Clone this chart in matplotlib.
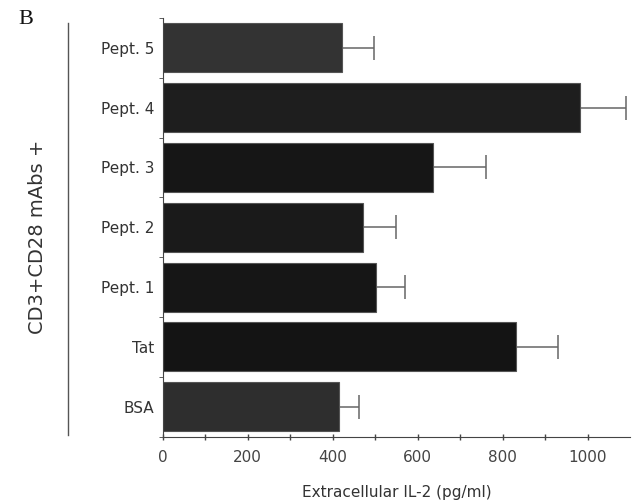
import matplotlib
matplotlib.use("Agg")
import matplotlib.pyplot as plt
from matplotlib.lines import Line2D

# data (bottom to top)
labels = ["BSA", "Tat", "Pept. 1", "Pept. 2", "Pept. 3", "Pept. 4", "Pept. 5"]
il2 = [415, 831, 503, 471, 636, 983, 421]
err = [47, 99, 68, 77, 125, 108, 77]

bar_colors = ["#2e2e2e", "#141414", "#161616", "#1a1a1a", "#161616", "#1e1e1e", "#333333"]

fig = plt.figure(figsize=(6.42, 5.03), dpi=100)
ax = fig.add_axes([0.2534, 0.1312, 0.728, 0.833])

pos = list(range(len(labels)))
ax.barh(pos, il2, height=0.82, color=bar_colors, edgecolor="#555555", linewidth=0.8, zorder=2)
ax.errorbar(il2, pos, xerr=[[0] * len(err), err], fmt="none", ecolor="#666666",
            elinewidth=1.1, capsize=8.7, capthick=1.1, zorder=1)

ax.set_xlim(0, 1100)
ax.set_ylim(-0.508, 6.475)

ax.set_xticks([0, 200, 400, 600, 800, 1000])
ax.set_xticks(range(100, 1100, 200), minor=True)
ax.tick_params(axis="x", which="both", direction="inout", length=5, width=1, labelsize=11,
               pad=7, labelcolor="#444444", color="#444444")

ax.set_yticks(pos)
ax.set_yticklabels(labels)
ax.set_yticks([p + 0.5 for p in pos] + [-0.5], minor=True)
ax.tick_params(axis="y", which="major", length=0, pad=6, labelsize=11, labelcolor="#333333")
ax.tick_params(axis="y", which="minor", direction="out", length=3, color="#444444")

for s in ["top", "right"]:
    ax.spines[s].set_visible(False)
ax.spines["left"].set_color("#444444")
ax.spines["bottom"].set_color("#444444")

ax.set_xlabel("Extracellular IL-2 (pg/ml)", fontsize=11, color="#333333", labelpad=14)

# outer label with its own vertical rule
fig.text(38 / 642, 1 - 237 / 503, "CD3+CD28 mAbs +", rotation=90, ha="center", va="center",
         fontsize=14, color="#333333")
fig.add_artist(Line2D([68 / 642, 68 / 642], [1 - 23 / 503, 1 - 435 / 503],
                      transform=fig.transFigure, color="#555555", linewidth=1))
fig.text(18 / 642, 1 - 19 / 503, "B", fontsize=16, family="Liberation Serif",
         ha="left", va="center", color="#111111")

plt.savefig("out.png", dpi=100)
